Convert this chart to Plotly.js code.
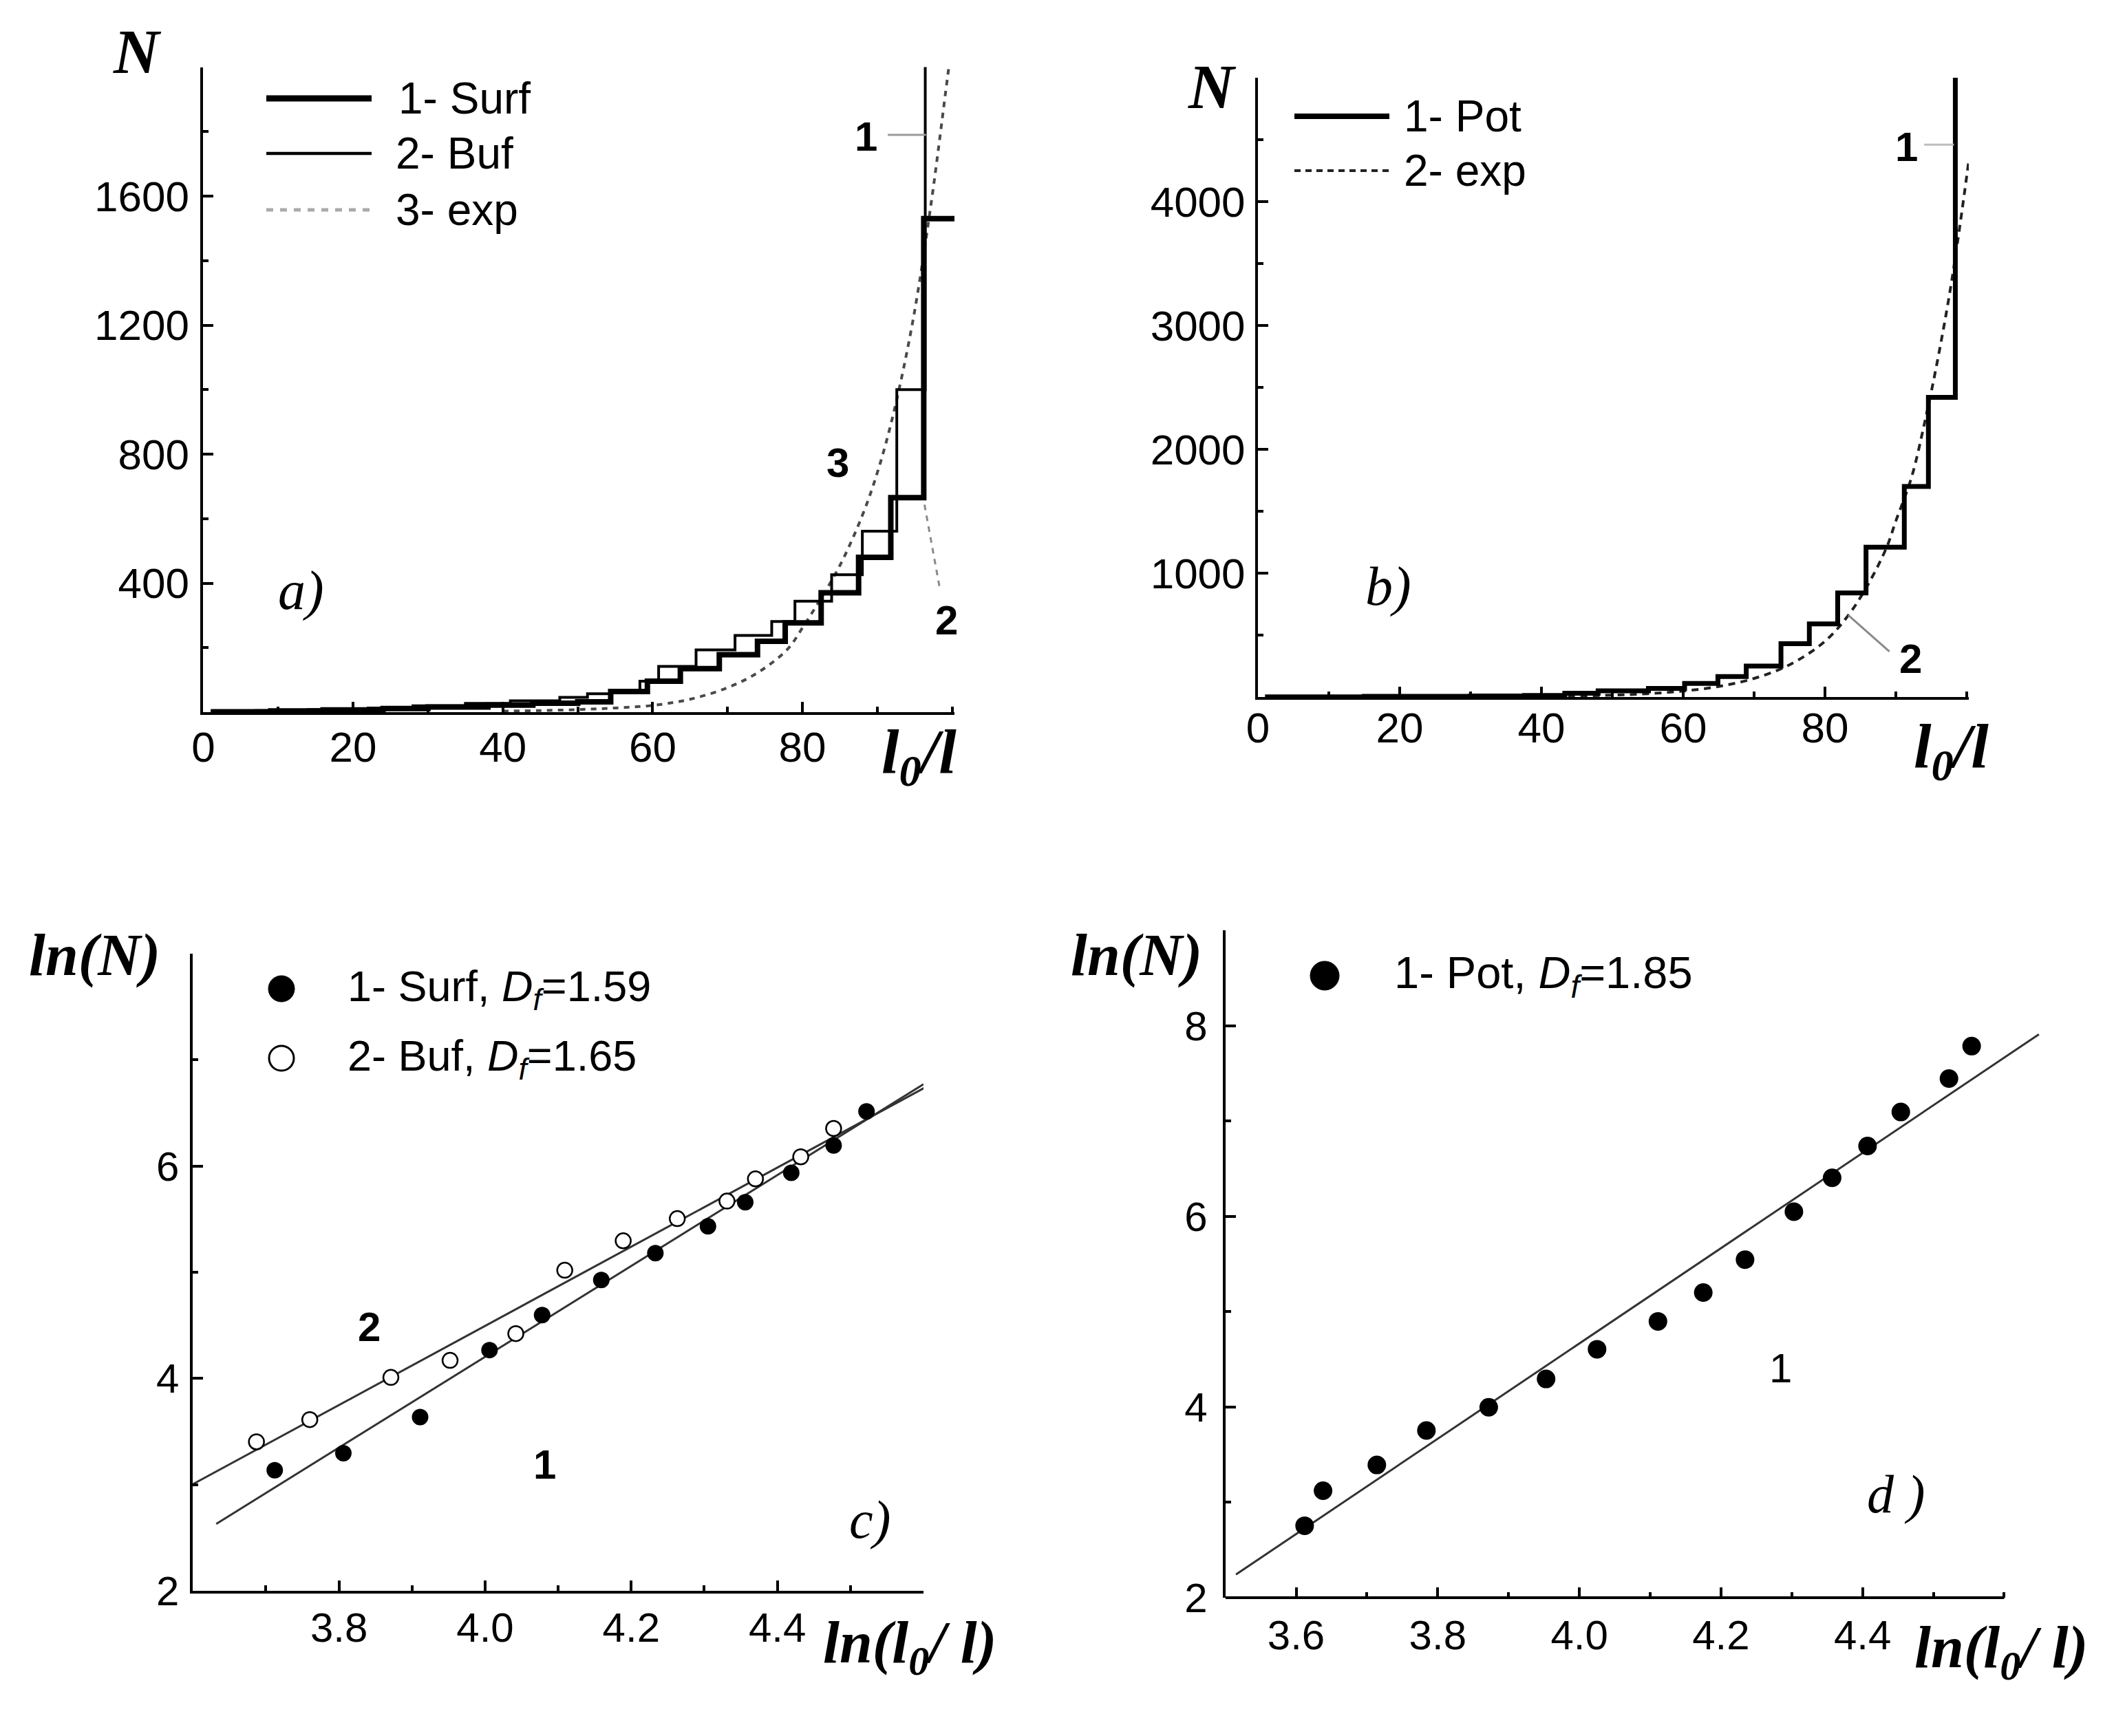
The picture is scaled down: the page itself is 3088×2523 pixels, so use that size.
<!DOCTYPE html>
<html>
<head>
<meta charset="utf-8">
<script src="https://cdn.plot.ly/plotly-3.0.1.min.js"></script>
<style>
  html, body { margin: 0; padding: 0; background: #fff; }
  #chart { width: 3088px; height: 2523px; }
</style>
</head>
<body>
<div id="chart"></div>
<script>
// ---------------- DATA ----------------
// Panel a) : N versus l0/l  (step curves)
const surfX = [1, 9, 16, 24, 30, 38, 44, 50, 54.4, 59.3, 63.7, 68.9, 74.0, 77.7, 82.5, 87.5, 91.8, 96.2, 100.3];
const surfN = [1, 4, 7, 11, 16, 22, 28, 32, 64, 96, 135, 178, 220, 277, 370, 480, 665, 1530, 1530];
const bufX = [1, 7, 14, 22, 28, 35, 41, 47.6, 51.3, 54.5, 58.3, 60.8, 65.8, 71.0, 75.9, 79.0, 83.9, 88.0, 92.6, 96.4];
const bufN = [2, 5, 8, 13, 20, 27, 35, 46, 57, 67, 96, 142, 193, 238, 281, 344, 426, 561, 1000, 2200];
const expAX = [40, 45, 50, 55, 60, 65, 70, 74, 78, 80.1, 82, 84.9, 88, 90.1, 92.2, 94.8, 97.2, 99.4, 100.3];
const expAN = [3, 5, 8, 13, 21, 40, 76, 122, 195, 265, 335, 450, 610, 750, 930, 1220, 1580, 1973, 2130];

// Panel b) : N versus l0/l
const potX = [1, 15, 30, 37.6, 43.3, 48, 55.1, 60.2, 64.9, 68.9, 73.8, 77.8, 81.8, 85.8, 91.2, 94.6, 98.4];
const potN = [1, 5, 9, 13, 30, 50, 70, 110, 165, 250, 430, 590, 840, 1210, 1700, 2420, 5200];
const expBX = [42, 50, 55, 60, 65, 70, 75, 80, 83.3, 86, 88.7, 90, 92.2, 94.2, 96, 98, 100.3];
const expBN = [5, 15, 27, 48, 85, 150, 260, 450, 660, 900, 1207, 1420, 1770, 2250, 2750, 3400, 4330];

// Panel c) : ln(N) versus ln(l0/l)
const surfLnL = [3.712, 3.806, 3.911, 4.006, 4.078, 4.159, 4.233, 4.305, 4.356, 4.419, 4.477, 4.522];
const surfLnN = [3.136, 3.296, 3.636, 4.267, 4.597, 4.927, 5.180, 5.432, 5.660, 5.937, 6.194, 6.515];
const bufLnL = [3.687, 3.760, 3.871, 3.952, 4.042, 4.109, 4.189, 4.263, 4.331, 4.370, 4.432, 4.477];
const bufLnN = [3.403, 3.612, 4.010, 4.170, 4.422, 5.019, 5.296, 5.505, 5.670, 5.879, 6.087, 6.354];
const fitSurfX = [3.632, 4.600];
const fitSurfY = [2.630, 6.770];
const fitBufX = [3.600, 4.605];
const fitBufY = [3.004, 6.750];

// Panel d) : ln(N) versus ln(l0/l)
const potLnL = [3.612, 3.638, 3.714, 3.784, 3.872, 3.953, 4.025, 4.111, 4.175, 4.234, 4.303, 4.357, 4.407, 4.454, 4.522, 4.554];
const potLnN = [2.755, 3.122, 3.392, 3.754, 3.997, 4.294, 4.606, 4.898, 5.200, 5.546, 6.048, 6.404, 6.738, 7.094, 7.445, 7.785];
const fitPotX = [3.515, 4.649];
const fitPotY = [2.243, 7.909];

// Tick labels (labelled ticks) and unlabelled tick positions
const aTickX = [0, 20, 40, 60, 80];
const aTickXText = ['0', '20', '40', '60', '80'];
const aMinorX = [10, 30, 50, 70, 90, 100];
const aTickY = [400, 800, 1200, 1600];
const aTickYText = ['400', '800', '1200', '1600'];
const aMinorY = [200, 600, 1000, 1400, 1800, 2000];
const bTickY = [1000, 2000, 3000, 4000];
const bTickYText = ['1000', '2000', '3000', '4000'];
const bMinorY = [500, 1500, 2500, 3500, 4500, 5000];
const cTickX = [3.8, 4.0, 4.2, 4.4];
const cTickXText = ['3.8', '4.0', '4.2', '4.4'];
const cMinorX = [3.7, 3.9, 4.1, 4.3, 4.5, 4.6];
const cTickY = [2, 4, 6];
const cTickYText = ['2', '4', '6'];
const cMinorY = [3, 5, 7, 8];
const dTickX = [3.6, 3.8, 4.0, 4.2, 4.4];
const dTickXText = ['3.6', '3.8', '4.0', '4.2', '4.4'];
const dMinorX = [3.7, 3.9, 4.1, 4.3, 4.5, 4.6];
const dTickY = [2, 4, 6, 8];
const dTickYText = ['2', '4', '6', '8'];
const dMinorY = [3, 5, 7, 9];

// ---------------- LAYOUT HELPERS ----------------
const W = 3088, H = 2523;
const SANS = 'Liberation Sans, Arial, sans-serif';
const SERIF = 'Liberation Serif, Times New Roman, serif';
function fx(px) { return px / W; }
function fy(py) { return 1 - py / H; }

function axis(o) {
  const base = {
    showgrid: false, zeroline: false, showline: true,
    linecolor: 'black', linewidth: 4,
    ticks: 'inside', ticklen: 15, tickwidth: 4, tickcolor: 'black',
    tickfont: {family: SANS, size: 62, color: 'black'},
    tickmode: 'array', fixedrange: true
  };
  const a = Object.assign(base, o);
  a.minor = {ticks: 'inside', ticklen: 8, tickwidth: 4, tickcolor: 'black',
             tickmode: 'array', tickvals: o.minorvals, showgrid: false};
  delete a.minorvals;
  return a;
}

function txt(text, x, y, size, opts) {
  opts = opts || {};
  return {
    text: text, xref: 'paper', yref: 'paper', x: fx(x), y: fy(y),
    xanchor: opts.xanchor || 'center', yanchor: 'middle', showarrow: false,
    font: {family: opts.family || SANS, size: size, color: 'black',
           weight: opts.weight || 'normal', style: opts.style || 'normal'}
  };
}
function legLine(x0, x1, y, width, color, dash) {
  return {type: 'line', xref: 'paper', yref: 'paper', x0: fx(x0), x1: fx(x1), y0: fy(y), y1: fy(y),
          line: {color: color, width: width, dash: dash || 'solid'}};
}
function legDot(x, y, d, filled) {
  return {type: 'circle', xref: 'paper', yref: 'paper', xsizemode: 'pixel', ysizemode: 'pixel',
          xanchor: fx(x), yanchor: fy(y), x0: -d / 2, x1: d / 2, y0: -d / 2, y1: d / 2,
          fillcolor: filled ? 'black' : 'white', line: {color: 'black', width: filled ? 1 : 3}};
}

// ---------------- TRACES ----------------
const traces = [
  // a
  {x: expAX, y: expAN, xaxis: 'x', yaxis: 'y', name: '3- exp', mode: 'lines',
   line: {color: '#4a4a4a', width: 4, dash: '8px,8px', shape: 'spline'}},
  {x: bufX, y: bufN, xaxis: 'x', yaxis: 'y', name: '2- Buf', mode: 'lines',
   line: {color: 'black', width: 4, shape: 'hv'}},
  {x: surfX, y: surfN, xaxis: 'x', yaxis: 'y', name: '1- Surf', mode: 'lines',
   line: {color: 'black', width: 8, shape: 'hv'}},
  // b
  {x: expBX, y: expBN, xaxis: 'x2', yaxis: 'y2', name: '2- exp', mode: 'lines',
   line: {color: '#222', width: 4, dash: '10px,8px', shape: 'spline'}},
  {x: potX, y: potN, xaxis: 'x2', yaxis: 'y2', name: '1- Pot', mode: 'lines',
   line: {color: 'black', width: 7, shape: 'hv'}},
  // c
  {x: fitBufX, y: fitBufY, xaxis: 'x3', yaxis: 'y3', name: 'fit 2', mode: 'lines',
   line: {color: '#333', width: 3}},
  {x: fitSurfX, y: fitSurfY, xaxis: 'x3', yaxis: 'y3', name: 'fit 1', mode: 'lines',
   line: {color: '#333', width: 3}},
  {x: bufLnL, y: bufLnN, xaxis: 'x3', yaxis: 'y3', name: '2- Buf, Df=1.65', mode: 'markers',
   marker: {size: 22, color: 'white', line: {color: 'black', width: 2.5}}},
  {x: surfLnL, y: surfLnN, xaxis: 'x3', yaxis: 'y3', name: '1- Surf, Df=1.59', mode: 'markers',
   marker: {size: 24, color: 'black'}},
  // d
  {x: fitPotX, y: fitPotY, xaxis: 'x4', yaxis: 'y4', name: 'fit', mode: 'lines',
   line: {color: '#333', width: 3}},
  {x: potLnL, y: potLnN, xaxis: 'x4', yaxis: 'y4', name: '1- Pot, Df=1.85', mode: 'markers',
   marker: {size: 27, color: 'black'}}
];

// ---------------- LAYOUT ----------------
const layout = {
  width: W, height: H, margin: {l: 0, r: 0, t: 0, b: 0},
  paper_bgcolor: 'white', plot_bgcolor: 'white', showlegend: false,
  font: {family: SANS, color: 'black'},
  xaxis: axis({domain: [fx(295.4), fx(1387)], range: [0, 100.3], anchor: 'y',
               tickvals: aTickX, ticktext: aTickXText, minorvals: aMinorX, ticklabelstandoff: -6}),
  yaxis: axis({domain: [fy(1035), fy(97.5)], range: [0, 2000], anchor: 'x',
               tickvals: aTickY, ticktext: aTickYText, minorvals: aMinorY, ticklabelstandoff: 4}),
  xaxis2: axis({domain: [fx(1828), fx(2861)], range: [0, 100.3], anchor: 'y2',
               tickvals: aTickX, ticktext: aTickXText, minorvals: aMinorX, ticklabelstandoff: -12}),
  yaxis2: axis({domain: [fy(1013), fy(113)], range: [0, 5000], anchor: 'x2',
               tickvals: bTickY, ticktext: bTickYText, minorvals: bMinorY, ticklabelstandoff: 2}),
  xaxis3: axis({domain: [fx(280.3), fx(1342)], range: [3.6, 4.6], anchor: 'y3',
               tickvals: cTickX, ticktext: cTickXText, minorvals: cMinorX, ticklabelstandoff: -2,
               tickfont: {family: SANS, size: 60, color: 'black'}}),
  yaxis3: axis({domain: [fy(2312), fy(1386)], range: [2, 8], anchor: 'x3',
               tickvals: cTickY, ticktext: cTickYText, minorvals: cMinorY, ticklabelstandoff: 4,
               tickfont: {family: SANS, size: 60, color: 'black'}}),
  xaxis4: axis({domain: [fx(1780.6), fx(2974.2)], range: [3.5, 4.66], anchor: 'y4', showline: false,
               tickvals: dTickX, ticktext: dTickXText, minorvals: dMinorX, ticklabelstandoff: 14,
               tickfont: {family: SANS, size: 60, color: 'black'}}),
  yaxis4: axis({domain: [fy(2322), fy(1352)], range: [2, 9], anchor: 'x4',
               tickvals: dTickY, ticktext: dTickYText, minorvals: dMinorY, ticklabelstandoff: 10,
               tickfont: {family: SANS, size: 60, color: 'black'}}),
  shapes: [
    // visible x-axis line of panel d (axis range ends at 4.6, fit line runs beyond it)
    {type: 'line', xref: 'x4', yref: 'y4 domain', x0: 3.5, x1: 4.6, y0: 0, y1: 0,
     line: {color: 'black', width: 4}},
    // pointer lines for curve labels
    {type: 'line', xref: 'x', yref: 'y', x0: 91.4, x1: 96.5, y0: 1790, y1: 1790,
     line: {color: '#9a9a9a', width: 3}},
    {type: 'line', xref: 'x', yref: 'y', x0: 96.3, x1: 98.4, y0: 643, y1: 376,
     line: {color: '#8a8a8a', width: 3, dash: '8px,8px'}},
    {type: 'line', xref: 'x2', yref: 'y2', x0: 94.0, x1: 98.2, y0: 4460, y1: 4460,
     line: {color: '#bdbdbd', width: 3}},
    {type: 'line', xref: 'x2', yref: 'y2', x0: 83.3, x1: 89.1, y0: 661, y1: 367,
     line: {color: '#8a8a8a', width: 3}},
    // legend samples
    legLine(387, 540, 143, 9, 'black'),
    legLine(387, 540, 223, 4.5, 'black'),
    legLine(387, 540, 305, 5, '#aaaaaa', '10px,10px'),
    legLine(1881, 2019, 169, 8, 'black'),
    legLine(1881, 2019, 248, 4, '#222', '9px,7px'),
    legDot(409, 1437, 38, true),
    legDot(409, 1538, 36, false),
    legDot(1925, 1418, 42, true)
  ],
  annotations: [
    // panel a
    txt('N', 199, 75, 92, {family: SERIF, weight: 'bold', style: 'italic'}),
    txt('l<sub>0</sub>/l', 1335, 1098, 92, {family: SERIF, weight: 'bold', style: 'italic'}),
    txt('a)', 437, 859, 80, {family: SERIF, style: 'italic'}),
    txt('1', 1258, 198, 60, {weight: 'bold'}),
    txt('3', 1217, 672, 60, {weight: 'bold'}),
    txt('2', 1375, 902, 60, {weight: 'bold'}),
    txt('1- Surf', 577, 143, 64, {xanchor: 'left'}),
    txt('2- Buf', 573, 223, 64, {xanchor: 'left'}),
    txt('3- exp', 573, 305, 64, {xanchor: 'left'}),
    // panel b
    txt('N', 1761, 126, 92, {family: SERIF, weight: 'bold', style: 'italic'}),
    txt('l<sub>0</sub>/l', 2835, 1090, 92, {family: SERIF, weight: 'bold', style: 'italic'}),
    txt('b)', 2017, 852, 80, {family: SERIF, style: 'italic'}),
    txt('1', 2770, 213, 60, {weight: 'bold'}),
    txt('2', 2776, 957, 60, {weight: 'bold'}),
    txt('1- Pot', 2038, 169, 64, {xanchor: 'left'}),
    txt('2- exp', 2038, 248, 64, {xanchor: 'left'}),
    // panel c
    txt('ln(N)', 137, 1388, 86, {family: SERIF, weight: 'bold', style: 'italic'}),
    txt('ln(l<sub>0</sub>/ l)', 1322, 2393, 86, {family: SERIF, weight: 'bold', style: 'italic'}),
    txt('2', 536, 1928, 60, {weight: 'bold'}),
    txt('1', 791, 2128, 60, {weight: 'bold'}),
    txt('c)', 1264, 2208, 78, {family: SERIF, style: 'italic'}),
    txt('1- Surf, <i>D<sub>f</sub></i>=1.59', 503, 1437, 63, {xanchor: 'left'}),
    txt('2- Buf, <i>D<sub>f</sub></i>=1.65', 503, 1538, 63, {xanchor: 'left'}),
    // panel d
    txt('ln(N)', 1651, 1388, 86, {family: SERIF, weight: 'bold', style: 'italic'}),
    txt('ln(l<sub>0</sub>/ l)', 2908, 2400, 86, {family: SERIF, weight: 'bold', style: 'italic'}),
    txt('1', 2587, 1988, 60),
    txt('d )', 2755, 2171, 78, {family: SERIF, style: 'italic'}),
    txt('1- Pot, <i>D<sub>f</sub></i>=1.85', 2024, 1418, 65, {xanchor: 'left'})
  ]
};

Plotly.newPlot('chart', traces, layout, {staticPlot: true, displayModeBar: false});
</script>
</body>
</html>
